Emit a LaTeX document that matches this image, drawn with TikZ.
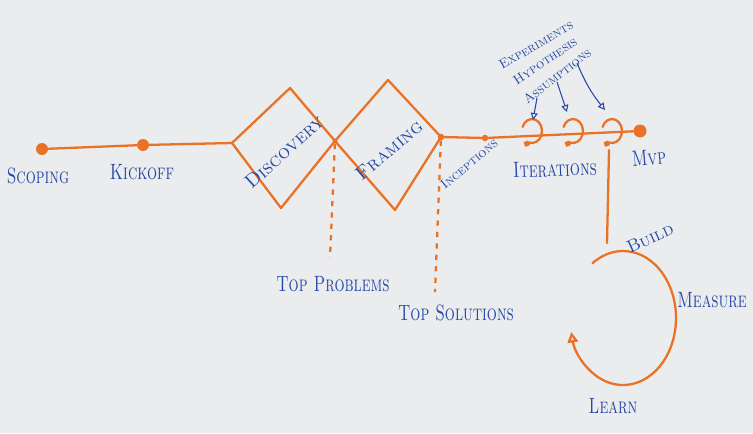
\documentclass[tikz,border=0pt]{standalone}
\usepackage{graphicx}
\usetikzlibrary{arrows.meta}

\definecolor{marker}{RGB}{234,114,38}
\definecolor{ink}{RGB}{38,72,168}
\definecolor{board}{RGB}{234,236,237}
\newcommand{\hw}[1]{\scalebox{1}[1.4]{#1}}

\begin{document}
\begin{tikzpicture}[x=0.02cm, y=-0.02cm,
        pen/.style={draw=marker, line width=1.3pt, line join=round, line cap=round},
        bigdot/.style={circle, fill=marker, inner sep=0pt, minimum size=0.24cm},
        smalldot/.style={circle, fill=marker, inner sep=0pt, minimum size=0.13cm},
        hand/.style={text=ink, inner sep=0pt, font=\scshape\fontsize{9}{9}\selectfont},
        tiny/.style={hand, font=\scshape\fontsize{7.5}{7.5}\selectfont},
        note/.style={draw=ink, line width=0.6pt, -{Triangle[open, length=4pt, width=4pt]}},
        guide/.style={pen, line cap=butt, dash pattern=on 3pt off 3.5pt}
    ]
        \fill[board] (0,0) rectangle (753,433);
        \useasboundingbox (0,0) rectangle (753,433);

        % timeline
        \node[bigdot] (scoping) at (42,149) {};
        \node[bigdot] (kickoff) at (143,145) {};
        \coordinate (discL) at (232,143);
        \coordinate (discT) at (290,88);
        \coordinate (discB) at (281,208);
        \node[smalldot, minimum size=0.1cm] (mid) at (335,141) {};
        \coordinate (frameT) at (388,80);
        \coordinate (frameB) at (395,210);
        \node[smalldot] (frameR) at (441,137) {};
        \node[smalldot] (inceptions) at (485,138) {};
        \node[bigdot, minimum size=0.26cm] (mvp) at (640,131) {};

        \draw[pen] (scoping) -- (kickoff) -- (discL);
        \draw[pen] (discL) -- (discT) -- (mid.center) -- (discB) -- cycle;
        \draw[pen] (mid.center) -- (frameT) -- (frameR.center) -- (frameB) -- cycle;
        \draw[pen] (frameR) -- (inceptions) -- (mvp);

        % iteration loops
        \foreach \x/\n in {532/1, 573/2, 612/3} {
            \coordinate (loop\n) at (\x,131);
            \draw[pen, -{Square[length=2.8pt, width=2.8pt]}] (loop\n) ++(200:10 and 12)
                arc[start angle=200, end angle=465, x radius=10, y radius=12] -- ++(-5,2);
        }

        % dashed outputs
        \coordinate (probEnd) at (330,258);
        \coordinate (solEnd) at (435,292);
        \draw[guide] (mid) -- (probEnd);
        \draw[guide] (frameR) -- (solEnd);

        % build-measure-learn
        \coordinate (drop) at (609,150);
        \coordinate (dropEnd) at (607,243);
        \draw[pen] (drop) -- (dropEnd);
        \coordinate (cycleC) at (623,318);
        \draw[pen, -{Triangle[open, length=6pt, width=6pt]}] (cycleC) ++(235:53 and 67)
            arc[start angle=235, end angle=528, x radius=53, y radius=67];

        % labels
        \node[hand] (scopingLbl) at (38,176) {\hw{Scoping}};
        \node[hand] (kickoffLbl) at (142,172) {\hw{Kickoff}};
        \node[hand, rotate=42, font=\scshape\fontsize{11}{11}\selectfont] (discLbl) at (284,152) {Discovery};
        \node[hand, rotate=40, font=\scshape\fontsize{11}{11}\selectfont] (frameLbl) at (389,150) {Framing};
        \node[tiny, rotate=40] (incLbl) at (469,164) {Inceptions};
        \node[hand, rotate=2] (iterLbl) at (555,169) {\hw{Iterations}};
        \node[hand, rotate=5] (mvpLbl) at (649,158) {\hw{Mvp}};
        \node[hand] (probLbl) at (333,284) {\hw{Top Problems}};
        \node[hand] (solLbl) at (456,313) {\hw{Top Solutions}};

        \node[tiny, rotate=30] (expLbl) at (536,45) {Experiments};
        \node[tiny, rotate=34] (hypLbl) at (545,61) {Hypothesis};
        \node[tiny, rotate=38] (assLbl) at (557,76) {Assumptions};
        \coordinate (a1) at (537,98);
        \coordinate (a2) at (557,82);
        \coordinate (a3) at (577,63);
        \draw[note] (a1) -- (533,120);
        \draw[note] (a2) -- (567,112);
        \draw[note] (a3) to[bend right=8] (605,110);

        \node[hand, rotate=25, font=\scshape\fontsize{10}{10}\selectfont] (buildLbl) at (650,238) {Build};
        \node[hand] (measureLbl) at (712,300) {\hw{Measure}};
        \node[hand] (learnLbl) at (613,406) {\hw{Learn}};
    \end{tikzpicture}
\end{document}
